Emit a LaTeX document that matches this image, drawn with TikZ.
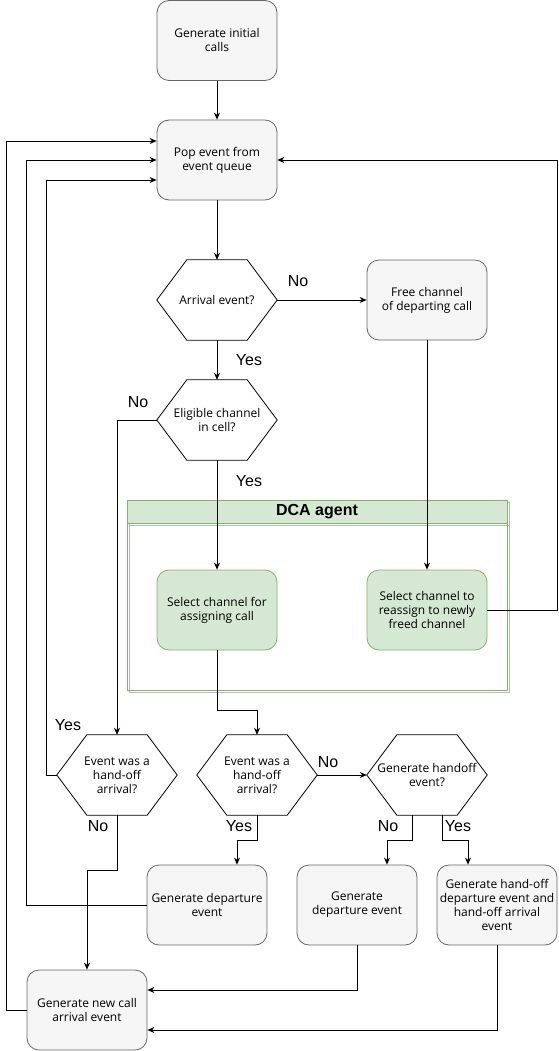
\documentclass[tikz,border=0pt]{standalone}
\usepackage{fontspec}
\setmainfont{Open Sans}
\newfontfamily\lblfont{Liberation Sans}
\usetikzlibrary{arrows.meta,calc}
\definecolor{boxfill}{HTML}{F5F5F5}
\definecolor{boxline}{HTML}{666666}
\definecolor{gfill}{HTML}{D5E8D4}
\definecolor{gline}{HTML}{82B366}
\newcommand\hexshape[1]{\draw[line width=0.8pt] ([xshift=30pt]#1.north west) -- ([xshift=-30pt]#1.north east) -- (#1.east) -- ([xshift=-30pt]#1.south east) -- ([xshift=30pt]#1.south west) -- (#1.west) -- cycle;}
\begin{document}
\begin{tikzpicture}[x=1pt,y=-1pt,
  every node/.style={font=\fontsize{12}{14}\selectfont},
  proc/.style={draw=boxline, fill=boxfill, line width=0.8pt, rounded corners=12pt, minimum width=120pt, minimum height=80pt, align=center, inner sep=0pt},
  gproc/.style={proc, draw=gline, fill=gfill},
  hexbox/.style={minimum width=120pt, minimum height=80pt, align=center, inner sep=0pt},
  conn/.style={draw=black, line width=0.8pt, -{Stealth[length=7pt,width=6pt]}},
  lbl/.style={font=\lblfont\fontsize{16}{18}\selectfont, inner sep=0pt}
]
\useasboundingbox (0,0) rectangle (558,1051);

% container
\draw[gray!55, line width=1pt] (129.5,502.5) rectangle (509.5,692.5);
\draw[gray!55, line width=1pt] (129.5,502.5) rectangle (509.5,525.5);
\draw[draw=gline, fill=gfill, line width=1pt] (127,500) rectangle (507,523);
\draw[draw=gline, line width=1pt] (127,500) rectangle (507,690);
\node[font=\lblfont\bfseries\fontsize{16}{18}\selectfont] (dca) at (317,511.5) {DCA agent};

% nodes
\node[proc] (init) at (217,40.5) {Generate initial\\calls};
\node[proc] (pop) at (217,160) {Pop event from\\event queue};
\node[hexbox] (arr) at (217,300) {Arrival event?};
\node[proc] (free) at (427,300) {Free channel\\of departing call};
\node[hexbox] (elig) at (217,420) {Eligible channel\\in cell?};
\node[gproc] (selA) at (217,610) {Select channel for\\assigning call};
\node[gproc] (selR) at (427,610) {Select channel to\\reassign to newly\\freed channel};
\node[hexbox] (hL) at (117,775) {Event was a\\hand-off\\arrival?};
\node[hexbox] (hM) at (257,775) {Event was a\\hand-off\\arrival?};
\node[hexbox] (hR) at (427,775) {Generate handoff\\event?};
\node[proc] (depM) at (207,905) {Generate departure\\event};
\node[proc] (depR) at (357,905) {Generate\\departure event};
\node[proc] (hoB) at (497,905) {Generate hand-off\\departure event and\\hand-off arrival\\event};
\node[proc] (newc) at (87,1010) {Generate new call\\arrival event};

\hexshape{arr}
\hexshape{elig}
\hexshape{hL}
\hexshape{hM}
\hexshape{hR}

% connectors
\draw[conn] (init) -- (pop);
\draw[conn] (pop) -- (arr);
\draw[conn] (arr.east) -- (free.west);
\draw[conn] (arr.south) -- (elig.north);
\draw[conn] (elig.south) -- (selA.north);
\draw[conn] (elig.west) -| (hL.north);
\draw[conn] (free.south) -- (selR.north);
\draw[conn] (selR.east) -| ($(pop.east)+(279.5,0)$) -- (pop.east);
\draw[conn] (selA.south) -- ++(0,60) -| (hM.north);
\draw[conn] (hL.west) -- ++(-10,0) |- ($(pop.west)+(0,20)$);
\draw[conn] (hL.south) -- ++(0,55) -| (newc.north);
\draw[conn] (hM.south) -- ++(0,25) -| ($(depM.north)+(30,0)$);
\draw[conn] (hM.east) -- (hR.west);
\draw[conn] ($(hR.south)+(-15,0)$) -- ++(0,25) -| ($(depR.north)+(30,0)$);
\draw[conn] ($(hR.south)+(15,0)$) -- ++(0,25) -| ($(hoB.north)+(-29,0)$);
\draw[conn] (depM.west) -- ++(-120,0) |- (pop.west);
\draw[conn] (newc.west) -- ++(-20,0) |- ($(pop.west)+(0,-19)$);
\draw[conn] (depR.south) |- ($(newc.east)+(0,-20)$);
\draw[conn] (hoB.south) |- ($(newc.east)+(0,20)$);

% labels
\node[lbl] (l1) at (298,281) {No};
\node[lbl] (l2) at (249,360) {Yes};
\node[lbl] (l3) at (249,481) {Yes};
\node[lbl] (l4) at (138,402) {No};
\node[lbl] (l5) at (68,725) {Yes};
\node[lbl] (l6) at (98,826) {No};
\node[lbl] (l7) at (239,826) {Yes};
\node[lbl] (l8) at (328,762) {No};
\node[lbl] (l9) at (388,826) {No};
\node[lbl] (l10) at (458,826) {Yes};
\end{tikzpicture}
\end{document}
